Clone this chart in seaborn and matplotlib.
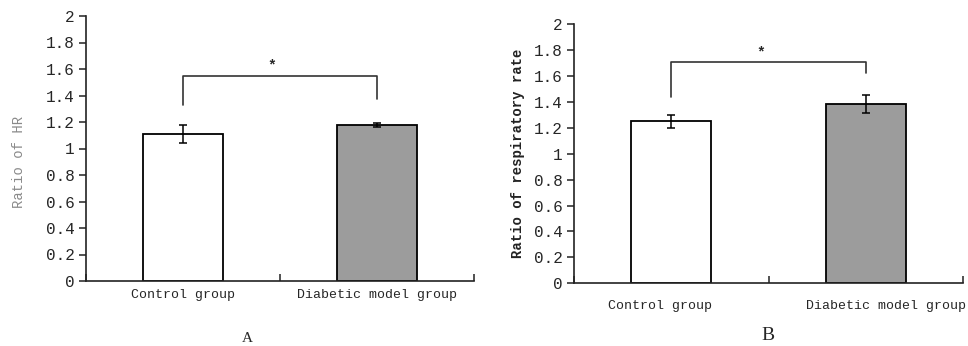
import matplotlib
matplotlib.use("Agg")
import matplotlib.pyplot as plt
import matplotlib.transforms as mtransforms
import seaborn as sns
import pandas as pd

categories = ["Control group", "Diabetic model group"]
hr_means = [1.11, 1.18]
hr_errs = [0.07, 0.015]
resp_means = [1.25, 1.38]
resp_errs = [0.05, 0.07]
yticks = [0, 0.2, 0.4, 0.6, 0.8, 1, 1.2, 1.4, 1.6, 1.8, 2]
ytick_labels = ["0", "0.2", "0.4", "0.6", "0.8", "1", "1.2", "1.4", "1.6", "1.8", "2"]
# significance brackets: [left leg bottom, top, right leg bottom]
hr_bracket = [1.33, 1.55, 1.37]
resp_bracket = [1.44, 1.71, 1.62]
bar_colors = ["#ffffff", "#9c9c9c"]

sns.set_style("white")
plt.rcParams["font.family"] = ["Liberation Mono", "DejaVu Sans Mono"]

fig = plt.figure(figsize=(9.68, 3.46), dpi=100)
axA = fig.add_axes([86/968, 1-281/346, (474-86)/968, (281-16)/346])
axB = fig.add_axes([574/968, 1-283.3/346, (963-574)/968, (283.3-24)/346])


def panel(ax, means, errs, bracket, ylabel, ylabel_color, ylabel_weight, xlab_pad):
    df = pd.DataFrame({"group": categories, "value": means})
    sns.barplot(data=df, x="group", y="value", hue="group", palette=bar_colors,
                edgecolor="black", linewidth=1.3, width=0.41, legend=False, ax=ax)
    xs = [p.get_x() + p.get_width() / 2 for p in ax.patches]
    ax.errorbar(xs, means, yerr=errs, fmt="none", ecolor="black",
                elinewidth=1.1, capsize=3, capthick=1.1)
    ax.set_xlim(-0.5, 1.5)
    ax.set_ylim(0, 2)
    ax.set_yticks(yticks)
    ax.set_yticklabels(ytick_labels, fontsize=11.5)
    ax.set_xlabel("")
    ax.set_ylabel(ylabel, fontsize=10, color=ylabel_color, fontweight=ylabel_weight)
    for s in ["top", "right"]:
        ax.spines[s].set_visible(False)
    for s in ["left", "bottom"]:
        ax.spines[s].set_color("#222222")
        ax.spines[s].set_linewidth(1.2)
    ax.tick_params(axis="y", direction="out", length=5, width=1.1, left=True,
                   color="#222222", pad=3)
    ax.tick_params(axis="x", which="major", length=0, labelsize=9.5, pad=xlab_pad)
    ax.set_xticks([-0.5, 0.5, 1.5], minor=True)
    ax.tick_params(axis="x", which="minor", direction="in", length=5, width=1.1,
                   bottom=True, color="#222222")
    # bracket
    ax.plot([xs[0], xs[0], xs[1], xs[1]],
            [bracket[0], bracket[1], bracket[1], bracket[2]],
            color="#333333", lw=1.2)
    ax.text((xs[0] + xs[1]) / 2 - 0.04, bracket[1] + 0.02, "*", ha="center",
            va="bottom", fontsize=10.5, fontweight="bold")
    return xs


panel(axA, hr_means, hr_errs, hr_bracket, "Ratio of HR", "#8a8a8a", "normal", 6)
panel(axB, resp_means, resp_errs, resp_bracket, "Ratio of respiratory rate",
      "#222222", "bold", 12)

axA.yaxis.set_label_coords(-0.155, 0.45)
axB.yaxis.set_label_coords(-0.125, 0.5)

# shift B's x tick labels like the original
shifts = [-11, 20]
for lab, dx in zip(axB.get_xticklabels(), shifts):
    lab.set_transform(lab.get_transform() +
                      mtransforms.ScaledTranslation(dx / 100, 0, fig.dpi_scale_trans))

fig.text(247/968, 1-338/346, "A", ha="center", va="center", fontsize=11,
         family=["Liberation Serif", "DejaVu Serif"])
fig.text(768/968, 1-335/346, "B", ha="center", va="center", fontsize=14,
         family=["Liberation Serif", "DejaVu Serif"])

fig.savefig("out.png", dpi=100, facecolor="white")
